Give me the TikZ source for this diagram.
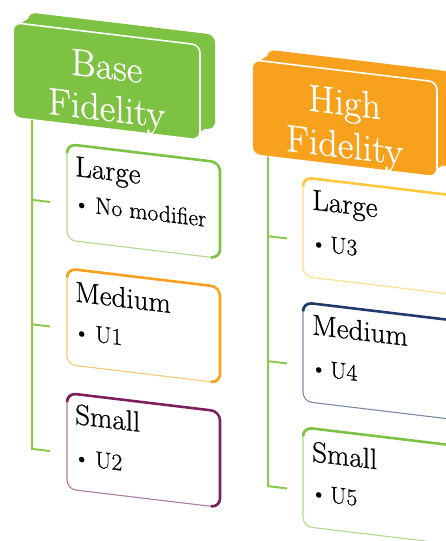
\documentclass[tikz,border=0pt]{standalone}
\usepackage{fontspec}
\setmainfont{Latin Modern Roman}[FakeBold=0.7]
\definecolor{leaf}{HTML}{7DC242}
\definecolor{stemgreen}{HTML}{8CC84B}
\definecolor{amber}{HTML}{F7A11C}
\definecolor{gold}{HTML}{FFC83D}
\definecolor{navy}{HTML}{1F3B6B}
\definecolor{plum}{HTML}{7D1F5E}

\tikzset{
  hdrface/.style={draw=white, line width=1.6pt, rounded corners=8pt,
    minimum width=187pt, minimum height=95pt, inner sep=0pt, outer sep=0pt},
  hdrtext/.style={text=white, font=\fontsize{38}{44}\selectfont, anchor=base, inner sep=0pt},
  card/.style={draw=#1!60, fill=white, line width=1.1pt, rounded corners=9pt,
    minimum width=153pt, minimum height=96pt, anchor=north west, inner sep=0pt, outer sep=0pt},
  rim/.style={draw=#1, line width=2.6pt, rounded corners=9pt},
  title/.style={font=\fontsize{29}{34}\selectfont, anchor=base west, inner sep=0pt},
  item/.style={font=\fontsize{23.5}{28}\selectfont, anchor=base west, inner sep=0pt},
  conn/.style={draw=stemgreen, line width=2pt},
}

\begin{document}
\begin{tikzpicture}[x=1pt,y=-1pt]
\useasboundingbox (0,0) rectangle (445,541);
\begin{scope}[transform canvas={yslant=-0.12}]

% ---------- Base Fidelity column ----------
\coordinate (bnw) at (13,21);
\coordinate (bse) at (200,116);
% extruded back of the header
\fill[leaf, rounded corners=8pt] ([shift={(15,-12)}]bnw) rectangle ([shift={(15,-12)}]bse);
\fill[leaf] ([xshift=8pt]bnw) -- ([shift={(23,-12)}]bnw) -- ([shift={(15,-20)}]bse) -- ([yshift=8pt]bse) -- cycle;
\node[hdrface, fill=leaf] (bh) at (106.5,68.5) {};
\node[hdrtext] (bh1) at ([yshift=-45pt]bh.north) {Base};
\node[hdrtext] (bh2) at ([yshift=-87pt]bh.north) {Fidelity};

\node[card=leaf]  (b1) at (67,136) {};
\node[card=amber] (b2) at (67,260.5) {};
\node[card=plum]  (b3) at (67,385) {};
\foreach \c/\col in {b1/leaf, b2/amber, b3/plum}{
  \draw[rim=\col] ([yshift=-9pt]\c.north west) -- (\c.north west) -- (\c.north east)
    -- (\c.south east) -- ([xshift=-9pt]\c.south east);
}

\node[title] (b1t) at ([shift={(8,31)}]b1.north west) {Large};
\node[item]  (b1d) at ([shift={(6,66)}]b1.north west) {•};
\node[item]  (b1i) at ([shift={(28,66)}]b1.north west) {No modifier};
\node[title] (b2t) at ([shift={(8,32)}]b2.north west) {Medium};
\node[item]  (b2d) at ([shift={(6,70)}]b2.north west) {•};
\node[item]  (b2i) at ([shift={(28,70)}]b2.north west) {U1};
\node[title] (b3t) at ([shift={(8,30)}]b3.north west) {Small};
\node[item]  (b3d) at ([shift={(6,71)}]b3.north west) {•};
\node[item]  (b3i) at ([shift={(28,71)}]b3.north west) {U2};

\coordinate (bs) at ([xshift=19pt]bh.south west);
\coordinate (bk1) at ([shift={(-17,60)}]b1.north west);
\coordinate (bk2) at ([shift={(-17,60)}]b2.north west);
\coordinate (bk3) at ([shift={(-17,60)}]b3.north west);
\draw[conn] (bs) |- (bk3);
\draw[conn] (bs |- bk1) -- (bk1);
\draw[conn] (bs |- bk2) -- (bk2);

% ---------- High Fidelity column ----------
\coordinate (hnw) at (252,29.5);
\coordinate (hse) at (437,124.5);
\fill[amber, rounded corners=8pt] ([shift={(15,-12)}]hnw) rectangle ([shift={(15,-12)}]hse);
\fill[amber] ([xshift=8pt]hnw) -- ([shift={(23,-12)}]hnw) -- ([shift={(15,-20)}]hse) -- ([yshift=8pt]hse) -- cycle;
\node[hdrface, fill=amber, minimum width=185pt] (hh) at (344.5,77) {};
\node[hdrtext] (hh1) at ([yshift=-44pt]hh.north) {High};
\node[hdrtext] (hh2) at ([yshift=-87pt]hh.north) {Fidelity};

\node[card=gold, minimum width=165pt, minimum height=99pt] (h1) at (303,141) {};
\node[card=navy, minimum width=165pt, minimum height=99pt] (h2) at (303,266) {};
\node[card=leaf, minimum width=165pt, minimum height=99pt] (h3) at (303,391) {};
\foreach \c/\col in {h1/gold, h2/navy, h3/leaf}{
  \draw[rim=\col] ([yshift=-9pt]\c.north west) -- (\c.north west) -- (\c.north east)
    -- (\c.south east) -- ([xshift=-9pt]\c.south east);
}

\node[title] (h1t) at ([shift={(9,31)}]h1.north west) {Large};
\node[item]  (h1d) at ([shift={(7,72)}]h1.north west) {•};
\node[item]  (h1i) at ([shift={(27,72)}]h1.north west) {U3};
\node[title] (h2t) at ([shift={(9,31)}]h2.north west) {Medium};
\node[item]  (h2d) at ([shift={(7,72)}]h2.north west) {•};
\node[item]  (h2i) at ([shift={(27,72)}]h2.north west) {U4};
\node[title] (h3t) at ([shift={(9,33)}]h3.north west) {Small};
\node[item]  (h3d) at ([shift={(7,72)}]h3.north west) {•};
\node[item]  (h3i) at ([shift={(27,72)}]h3.north west) {U5};

\coordinate (hs) at ([xshift=16pt]hh.south west);
\coordinate (hk1) at ([shift={(-16,63)}]h1.north west);
\coordinate (hk2) at ([shift={(-16,63)}]h2.north west);
\coordinate (hk3) at ([shift={(-16,63)}]h3.north west);
\draw[conn] (hs) |- (hk3);
\draw[conn] (hs |- hk1) -- (hk1);
\draw[conn] (hs |- hk2) -- (hk2);

\end{scope}
\end{tikzpicture}
\end{document}
